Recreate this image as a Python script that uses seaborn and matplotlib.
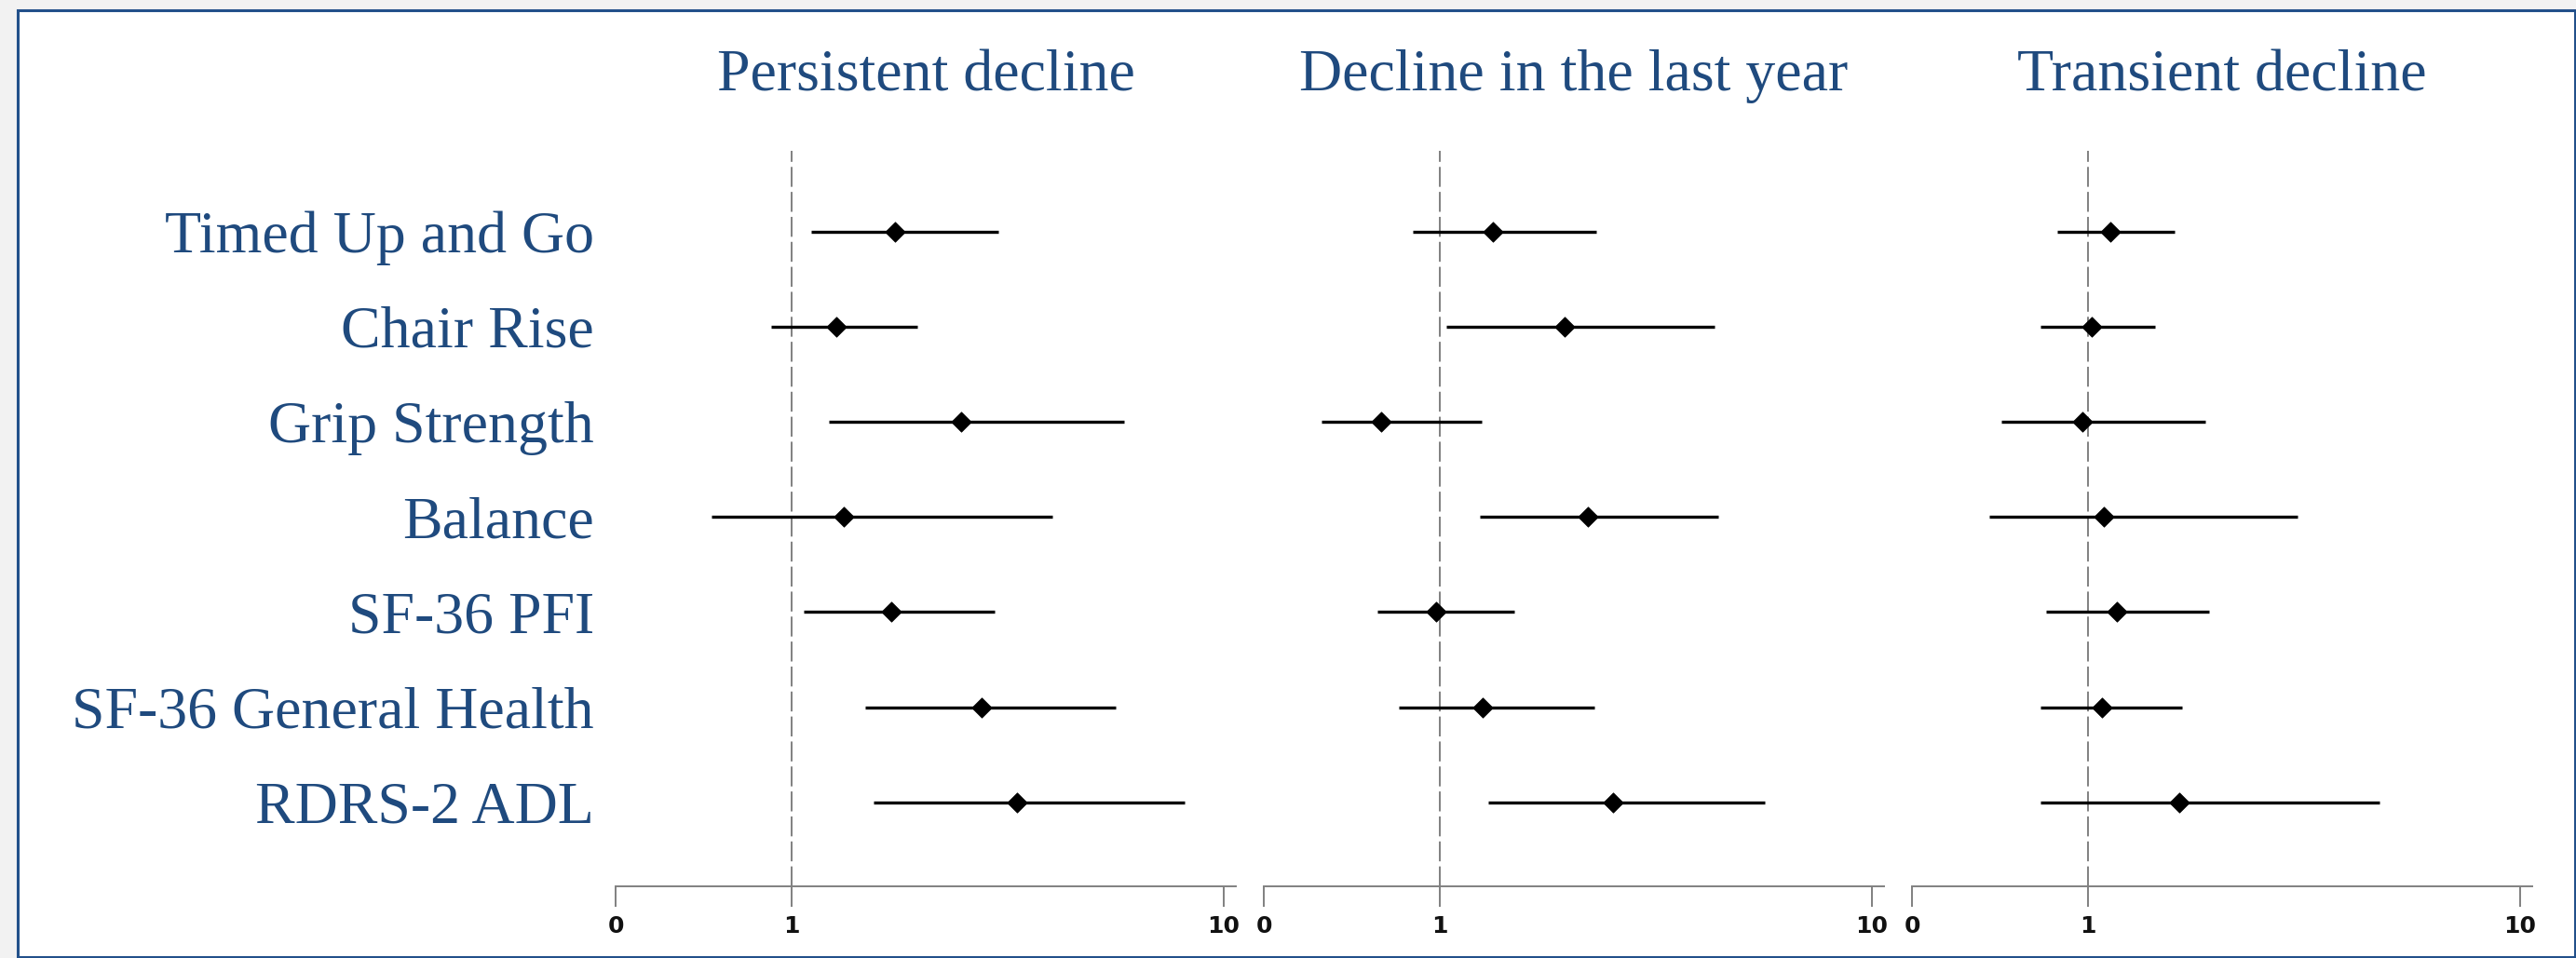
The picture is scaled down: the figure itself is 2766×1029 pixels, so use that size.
import numpy as np
import pandas as pd
import matplotlib
matplotlib.use("Agg")
import matplotlib.pyplot as plt
import seaborn as sns
from matplotlib.patches import Rectangle
from matplotlib.ticker import NullLocator

# ---------------- data ----------------
outcomes = ["Timed Up and Go", "Chair Rise", "Grip Strength", "Balance",
            "SF-36 PFI", "SF-36 General Health", "RDRS-2 ADL"]
panel_titles = ["Persistent decline", "Decline in the last year", "Transient decline"]

persistent_or = [1.74, 1.27, 2.47, 1.32, 1.70, 2.75, 3.32]
persistent_lo = [1.11, 0.90, 1.22, 0.655, 1.07, 1.48, 1.55]
persistent_hi = [3.01, 1.96, 5.89, 4.02, 2.96, 5.63, 8.13]

lastyear_or = [1.33, 1.95, 0.734, 2.20, 0.985, 1.26, 2.52]
lastyear_lo = [0.868, 1.036, 0.535, 1.24, 0.719, 0.807, 1.30]
lastyear_hi = [2.30, 4.33, 1.25, 4.41, 1.49, 2.28, 5.66]

transient_or = [1.127, 1.022, 0.974, 1.09, 1.17, 1.08, 1.627]
transient_lo = [0.851, 0.779, 0.633, 0.594, 0.80, 0.777, 0.779]
transient_hi = [1.59, 1.43, 1.875, 3.06, 1.91, 1.65, 4.74]

x_range = [0.3927, 10.67]
tick_values = [0.3927, 1, 10]
tick_labels = ["0", "1", "10"]

series = [(persistent_or, persistent_lo, persistent_hi),
          (lastyear_or, lastyear_lo, lastyear_hi),
          (transient_or, transient_lo, transient_hi)]

# ---------------- style ----------------
sns.set_style("white")
plt.rcParams['font.family'] = ['Liberation Serif', 'DejaVu Serif']

TEXT = "#1f4a7e"
BORDER = "#22508a"
GRAY = "#808080"

W, H = 2766, 1029
fig = plt.figure(figsize=(W / 100, H / 100), dpi=100, facecolor="#f2f2f2")
fig.patches.append(Rectangle((19 / W, 1 - 1028 / H), (2765 - 19) / W, (1028 - 11) / H,
                             transform=fig.transFigure, facecolor="white",
                             edgecolor=BORDER, lw=2.2, zorder=-10))

pos = np.arange(len(outcomes))
lefts = [661, 1357, 2053]
ax_w = 666
ax_top, ax_bot = 162, 952

for k, (title, (est, lo, hi)) in enumerate(zip(panel_titles, series)):
    ax = fig.add_axes([lefts[k] / W, 1 - ax_bot / H, ax_w / W, (ax_bot - ax_top) / H])
    ax.set_facecolor("none")
    ax.set_zorder(1)
    df = pd.DataFrame({"outcome": outcomes, "pos": pos, "est": est, "lo": lo, "hi": hi})

    ax.axvline(1, color=GRAY, lw=1.4, ls=(0, (11, 2.8)), zorder=1)
    ax.hlines(df["pos"], df["lo"], df["hi"], color="black", lw=2.4, zorder=2)
    sns.scatterplot(data=df, x="est", y="pos", marker="D", s=120, color="black",
                    edgecolor="black", linewidth=0.5, zorder=3, ax=ax, legend=False)

    ax.set_xscale("log")
    ax.set_xlim(*x_range)
    ax.set_ylim(6.882, -0.848)
    ax.xaxis.set_minor_locator(NullLocator())
    ax.set_xticks(tick_values)
    ax.set_xticklabels(tick_labels, fontfamily="DejaVu Sans", fontweight="bold",
                       fontsize=18, color="#111111")
    ax.tick_params(axis="x", which="major", direction="out", length=15.8, width=1.4,
                   color=GRAY, pad=6.5, bottom=True)
    ax.set_xlabel("")
    ax.set_ylabel("")

    if k == 0:
        ax.set_yticks(pos)
        ax.set_yticklabels(outcomes, fontsize=46, color=TEXT)
        ax.tick_params(axis="y", length=0, pad=16.6, left=False)
    else:
        ax.set_yticks([])

    for s in ["left", "top", "right"]:
        ax.spines[s].set_visible(False)
    ax.spines["bottom"].set_color(GRAY)
    ax.spines["bottom"].set_linewidth(1.4)
    ax.grid(False)

    cx = (lefts[k] + ax_w / 2) / W
    fig.text(cx, 1 - 97 / H, title, ha="center", va="baseline", fontsize=46, color=TEXT)

fig.savefig("out.png", dpi=100, facecolor=fig.get_facecolor())
